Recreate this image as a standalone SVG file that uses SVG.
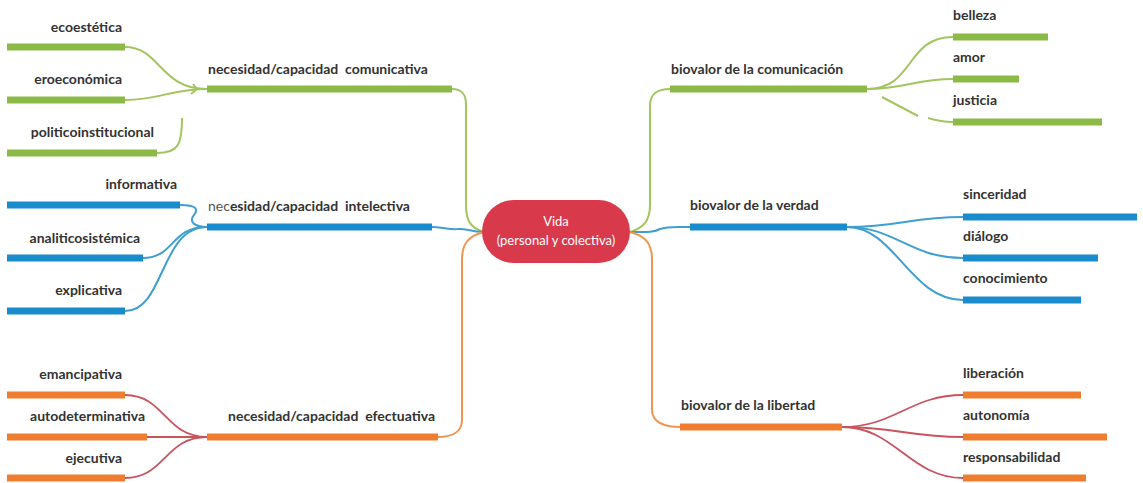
<svg xmlns="http://www.w3.org/2000/svg" width="1143" height="483" viewBox="0 0 1143 483">
<style>
text{font-family:Lato,"Open Sans","Liberation Sans",sans-serif;font-weight:bold;font-size:14px;fill:#333;white-space:pre}
.e{text-anchor:end}
.bg{stroke:#8cba46;stroke-width:7;stroke-linecap:butt}
.bb{stroke:#1a8bcb;stroke-width:7}
.bo{stroke:#ee7d2f;stroke-width:7}
.cg{fill:none;stroke:#a3c560;stroke-width:2}
.cb{fill:none;stroke:#3f9fd1;stroke-width:2}
.co{fill:none;stroke:#f0954f;stroke-width:2}
.cr{fill:none;stroke:#c8545e;stroke-width:1.8}
</style>
<rect width="1143" height="483" fill="#fff"/>
<g id="connectors">
<path class="cg" d="M484,232 C470,228 466,220 466,205 L466,105 C466,94 462,89 452,89"/>
<path class="cb" d="M484,232 C470,232 466,228 458,229 C446,230 442,227 432,227"/>
<path class="co" d="M484,232 C468,236 462,244 462,260 L462,420 C462,432 452,437 438,437"/>
<path class="cg" d="M630,232 C644,228 650,220 650,205 L650,105 C650,94 658,89 670,89"/>
<path class="cb" d="M630,232 C645,232 652,233 660,229 C668,226 676,227 690,227"/>
<path class="co" d="M630,232 C646,236 652,244 652,260 L652,410 C652,422 664,427 680,427"/>
<path class="cg" d="M125,47 C160,47 160,89 207,89"/>
<path class="cg" d="M125,100 C160,100 170,89 207,89"/>
<path class="cg" d="M193,84 L197,89 L191,94"/>
<path class="cg" d="M157,153 C178,153 182,145 182,118"/>
<path class="cb" d="M180,205 C198,205 198,210 194,215 C188,222 195,227 207,227"/>
<path class="cb" d="M143,258 C175,258 170,227 207,227"/>
<path class="cb" d="M125,311 C165,311 160,227 207,227"/>
<path class="cr" d="M125,395 C165,395 165,437 207,437"/>
<path class="cr" d="M147,437 L207,437"/>
<path class="cr" d="M125,478 C165,478 165,437 207,437"/>
<path class="cg" d="M867,89 C915,89 905,37 953,37"/>
<path class="cg" d="M867,89 C905,89 915,79 953,79"/>
<path class="cg" d="M882,97 L918,116"/>
<path class="cg" d="M928,118 C938,121 944,122 953,122"/>
<path class="cb" d="M847,227 C900,227 910,217 963,217"/>
<path class="cb" d="M847,227 C895,227 910,258 963,258"/>
<path class="cb" d="M847,227 C895,227 910,300 963,300"/>
<path class="cr" d="M842,427 C895,427 910,395 963,395"/>
<path class="cr" d="M842,427 C895,427 910,437 963,437"/>
<path class="cr" d="M842,427 C895,427 910,478 963,478"/>
</g>
<g id="center">
<rect x="482" y="200" width="148" height="63" rx="31.5" fill="#d83a4b"/>
<text x="556" y="226" text-anchor="middle" style="fill:#fff;font-weight:normal;font-size:13px">Vida</text>
<text x="556" y="245" text-anchor="middle" style="fill:#fff;font-weight:normal;font-size:13px">(personal y colectiva)</text>
</g>
<g id="n-comunicativa"><line class="bg" x1="207" y1="89" x2="452" y2="89"/><text x="208" y="74">necesidad/capacidad  comunicativa</text></g>
<g id="n-ecoestetica"><line class="bg" x1="7" y1="47" x2="125" y2="47"/><text class="e" x="122" y="32">ecoestética</text></g>
<g id="n-eroeconomica"><line class="bg" x1="7" y1="100" x2="125" y2="100"/><text class="e" x="122" y="84">eroeconómica</text></g>
<g id="n-politico"><line class="bg" x1="7" y1="153" x2="157" y2="153"/><text class="e" x="154" y="137">politicoinstitucional</text></g>
<g id="n-intelectiva"><line class="bb" x1="207" y1="227" x2="432" y2="227"/><text x="208" y="211"><tspan style="font-weight:normal;fill:#555">nec</tspan>esidad/capacidad  intelectiva</text></g>
<g id="n-informativa"><line class="bb" x1="7" y1="205" x2="180" y2="205"/><text class="e" x="177" y="189">informativa</text></g>
<g id="n-analitico"><line class="bb" x1="7" y1="258" x2="143" y2="258"/><text class="e" x="140" y="243">analiticosistémica</text></g>
<g id="n-explicativa"><line class="bb" x1="7" y1="311" x2="125" y2="311"/><text class="e" x="122" y="295">explicativa</text></g>
<g id="n-efectuativa"><line class="bo" x1="207" y1="437" x2="438" y2="437"/><text class="e" x="435" y="421">necesidad/capacidad  efectuativa</text></g>
<g id="n-emancipativa"><line class="bo" x1="7" y1="395" x2="125" y2="395"/><text class="e" x="122" y="379">emancipativa</text></g>
<g id="n-autodeterminativa"><line class="bo" x1="7" y1="437" x2="147" y2="437"/><text class="e" x="145" y="421">autodeterminativa</text></g>
<g id="n-ejecutiva"><line class="bo" x1="7" y1="478" x2="125" y2="478"/><text class="e" x="122" y="463">ejecutiva</text></g>
<g id="n-bcomunicacion"><line class="bg" x1="670" y1="89" x2="867" y2="89"/><text x="671" y="74">biovalor de la comunicación</text></g>
<g id="n-belleza"><line class="bg" x1="953" y1="37" x2="1048" y2="37"/><text x="953" y="20">belleza</text></g>
<g id="n-amor"><line class="bg" x1="953" y1="79" x2="1019" y2="79"/><text x="953" y="62">amor</text></g>
<g id="n-justicia"><line class="bg" x1="953" y1="122" x2="1102" y2="122"/><text x="953" y="105">justicia</text></g>
<g id="n-bverdad"><line class="bb" x1="690" y1="227" x2="847" y2="227"/><text x="690" y="210">biovalor de la verdad</text></g>
<g id="n-sinceridad"><line class="bb" x1="963" y1="217" x2="1137" y2="217"/><text x="963" y="199">sinceridad</text></g>
<g id="n-dialogo"><line class="bb" x1="963" y1="258" x2="1098" y2="258"/><text x="963" y="241">diálogo</text></g>
<g id="n-conocimiento"><line class="bb" x1="963" y1="300" x2="1081" y2="300"/><text x="963" y="283">conocimiento</text></g>
<g id="n-blibertad"><line class="bo" x1="680" y1="427" x2="842" y2="427"/><text x="681" y="410">biovalor de la libertad</text></g>
<g id="n-liberacion"><line class="bo" x1="963" y1="395" x2="1081" y2="395"/><text x="963" y="378">liberación</text></g>
<g id="n-autonomia"><line class="bo" x1="963" y1="437" x2="1107" y2="437"/><text x="963" y="420">autonomía</text></g>
<g id="n-responsabilidad"><line class="bo" x1="963" y1="478" x2="1086" y2="478"/><text x="963" y="462">responsabilidad</text></g>
</svg>
